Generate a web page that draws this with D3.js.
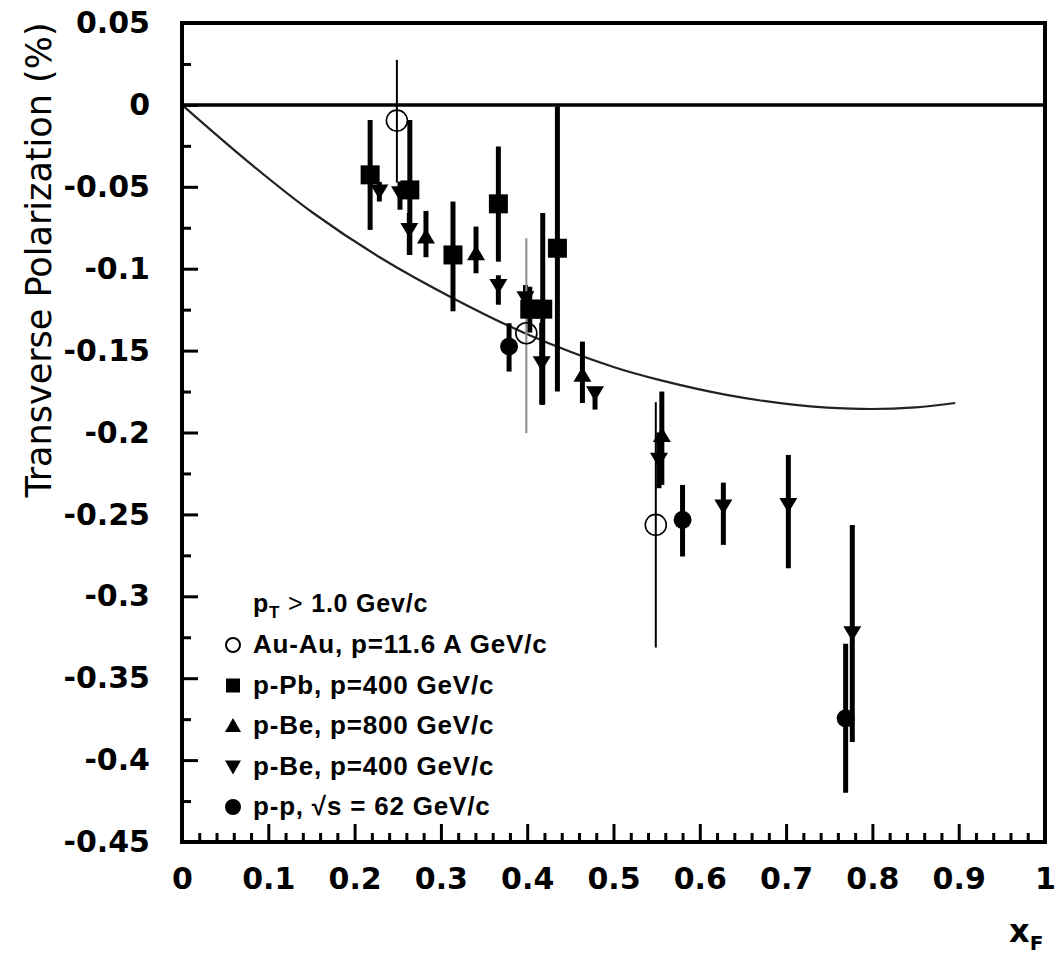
<!DOCTYPE html>
<html>
<head>
<meta charset="utf-8">
<script src="https://cdn.jsdelivr.net/npm/d3@7"></script>
<style>
  body { margin: 0; background: #fff; }
</style>
</head>
<body>
<svg id="chart" width="1056" height="959"></svg>
<script>
'use strict';

// model curve
var curveX = [0, 0.075, 0.152, 0.229, 0.314, 0.4, 0.5, 0.554, 0.631, 0.708, 0.786, 0.85, 0.896];
var curveY = [0, -0.034, -0.066, -0.093, -0.118, -0.140, -0.160, -0.168, -0.177, -0.183, -0.1856, -0.1847, -0.182];

// each row: [xF, polarization, error top, error bottom]
var auAu = [[0.249, -0.0096, 0.0275, -0.0474], [0.399, -0.1394, -0.0814, -0.2004], [0.549, -0.2564, -0.1815, -0.3313]];
var pPb = [[0.218, -0.0427, -0.0092, -0.0763], [0.264, -0.0519, -0.0092, -0.0916], [0.314, -0.0916, -0.059, -0.126],
  [0.3666, -0.0604, -0.0254, -0.0957], [0.403, -0.1247, -0.111, -0.139], [0.418, -0.1247, -0.066, -0.183], [0.435, -0.0875, -0.001, -0.175]];
var pBe800 = [[0.2827, -0.0804, -0.0647, -0.093], [0.3407, -0.0905, -0.0743, -0.1028], [0.464, -0.1648, -0.1445, -0.182], [0.556, -0.2015, -0.175, -0.232]];
var pBe400 = [[0.2287, -0.0529, -0.047, -0.059], [0.2526, -0.0539, -0.0468, -0.064], [0.2634, -0.0763, -0.066, -0.0916],
  [0.3666, -0.1105, -0.104, -0.122], [0.398, -0.118, -0.110, -0.128], [0.4168, -0.1577, -0.133, -0.183], [0.4786, -0.176, -0.1728, -0.186],
  [0.5527, -0.2167, -0.200, -0.234], [0.6273, -0.2452, -0.2306, -0.2686], [0.7026, -0.2442, -0.2137, -0.2829], [0.7767, -0.3225, -0.2564, -0.389]];
var pp = [[0.379, -0.1475, -0.1333, -0.1628], [0.580, -0.2533, -0.232, -0.2757], [0.769, -0.3745, -0.329, -0.42]];

var xTicks = [0, 0.1, 0.2, 0.3, 0.4, 0.5, 0.6, 0.7, 0.8, 0.9, 1];
var xTickLabels = ["0", "0.1", "0.2", "0.3", "0.4", "0.5", "0.6", "0.7", "0.8", "0.9", "1"];
var yTicks = [0.05, 0, -0.05, -0.1, -0.15, -0.2, -0.25, -0.3, -0.35, -0.4, -0.45];
var yTickLabels = ["0.05", "0", "-0.05", "-0.1", "-0.15", "-0.2", "-0.25", "-0.3", "-0.35", "-0.4", "-0.45"];

var legendLabels = ["Au-Au, p=11.6 A GeV/c", "p-Pb, p=400 GeV/c", "p-Be, p=800 GeV/c", "p-Be, p=400 GeV/c", "p-p, \u221As = 62 GeV/c"];

var svg = d3.select("#chart");
var mLeft = 182, mRight = 1045, mTop = 23, mBottom = 842;

var x = d3.scaleLinear().domain([0, 1]).range([mLeft, mRight]);
var y = d3.scaleLinear().domain([-0.45, 0.05]).range([mBottom, mTop]);

// minor ticks
var xMinor = d3.range(0, 1.0001, 0.02).filter(function(d) { return Math.abs(d * 10 - Math.round(d * 10)) > 1e-6; });
var yMinor = d3.range(-0.425, 0.05, 0.05);

var tickFont = "'DejaVu Sans', sans-serif";

svg.append("g")
  .attr("transform", "translate(" + mLeft + ",0)")
  .call(d3.axisLeft(y).tickValues(yTicks).tickSize(-16).tickPadding(32)
    .tickFormat(function(d, i) { return yTickLabels[i]; }));
svg.append("g")
  .attr("transform", "translate(" + mLeft + ",0)")
  .call(d3.axisLeft(y).tickValues(yMinor).tickSize(-9).tickFormat(""));

svg.append("g")
  .attr("transform", "translate(0," + mBottom + ")")
  .call(d3.axisBottom(x).tickValues(xTicks).tickSize(-18).tickPadding(26)
    .tickFormat(function(d, i) { return xTickLabels[i]; }));
svg.append("g")
  .attr("transform", "translate(0," + mBottom + ")")
  .call(d3.axisBottom(x).tickValues(xMinor).tickSize(-9).tickFormat(""));

svg.selectAll(".domain").remove();
svg.selectAll(".tick line").attr("stroke", "#000").attr("stroke-width", 3);
svg.selectAll(".tick text")
  .attr("font-family", tickFont)
  .attr("font-weight", "bold")
  .attr("font-size", 30)
  .attr("fill", "#000");

// model curve
var line = d3.line()
  .x(function(d, i) { return x(curveX[i]); })
  .y(function(d, i) { return y(curveY[i]); })
  .curve(d3.curveCatmullRom.alpha(0.5));
svg.append("path")
  .attr("d", line(curveX))
  .attr("fill", "none")
  .attr("stroke", "#222")
  .attr("stroke-width", 2.2);

// zero line
svg.append("line")
  .attr("x1", x(0)).attr("x2", x(1))
  .attr("y1", y(0)).attr("y2", y(0))
  .attr("stroke", "#000")
  .attr("stroke-width", 3.5);

// error bars
var drawBars = function(data, width, color) {
  svg.append("g").selectAll("line")
    .data(data)
    .enter()
    .append("line")
    .attr("x1", function(d) { return x(d[0]); })
    .attr("x2", function(d) { return x(d[0]); })
    .attr("y1", function(d) { return y(d[2]); })
    .attr("y2", function(d) { return y(d[3]); })
    .attr("stroke", function(d, i) { return typeof color === "function" ? color(i) : color; })
    .attr("stroke-width", width);
};
drawBars(pPb, 5, "#000");
drawBars(pBe800, 5, "#000");
drawBars(pBe400, 5, "#000");
drawBars(pp, 5, "#000");
drawBars(auAu, 2, function(i) { return i === 1 ? "#8a8a8a" : "#000"; });

// marker shapes
var shapes = {
  square: "M-9.5,-9.5H9.5V9.5H-9.5Z",
  up: "M-9,7L9,7L0,-8Z",
  down: "M-9,-7L9,-7L0,8Z"
};
var drawMarks = function(data, kind) {
  var g = svg.append("g").selectAll("g")
    .data(data)
    .enter()
    .append("g")
    .attr("transform", function(d) { return "translate(" + x(d[0]) + "," + y(d[1]) + ")"; });
  if (kind === "open") {
    g.append("circle").attr("r", 10.5).attr("fill", "none").attr("stroke", "#000").attr("stroke-width", 1.6);
  } else if (kind === "dot") {
    g.append("circle").attr("r", 9).attr("fill", "#000");
  } else {
    g.append("path").attr("d", shapes[kind]).attr("fill", "#000");
  }
};
drawMarks(pPb, "square");
drawMarks(pBe800, "up");
drawMarks(pBe400, "down");
drawMarks(pp, "dot");
drawMarks(auAu, "open");

// frame
svg.append("rect")
  .attr("x", mLeft).attr("y", mTop)
  .attr("width", mRight - mLeft).attr("height", mBottom - mTop)
  .attr("fill", "none")
  .attr("stroke", "#000")
  .attr("stroke-width", 4);

// axis titles
svg.append("text")
  .attr("transform", "translate(51,260) rotate(-90)")
  .attr("text-anchor", "middle")
  .attr("font-family", tickFont)
  .attr("font-size", 35)
  .attr("fill", "#000")
  .text("Transverse Polarization (%)");

var xt = svg.append("text")
  .attr("x", 1009).attr("y", 942)
  .attr("font-family", tickFont)
  .attr("font-weight", "bold")
  .attr("font-size", 32)
  .attr("fill", "#000")
  .text("x");
xt.append("tspan").attr("font-size", 20).attr("dy", 8).text("F");

// legend
var legFont = "'Liberation Sans', Arial, sans-serif";
var head = svg.append("text")
  .attr("x", 253).attr("y", 612)
  .attr("font-family", legFont)
  .attr("font-weight", "bold")
  .attr("font-size", 25)
  .attr("letter-spacing", 0.8)
  .attr("fill", "#000")
  .text("p");
head.append("tspan").attr("font-size", 17).attr("dy", 6).text("T");
head.append("tspan").attr("dy", -6).attr("font-weight", "normal").text(" > ");
head.append("tspan").text("1.0 Gev/c");

var legKinds = ["open", "square", "up", "down", "dot"];
var legShapes = {
  open: "M-7,0A7,7 0 1,0 7,0A7,7 0 1,0 -7,0Z",
  square: "M-7,-7H7V7H-7Z",
  up: "M-8,6L8,6L0,-8Z",
  down: "M-8,-6L8,-6L0,8Z",
  dot: "M-8,0A8,8 0 1,0 8,0A8,8 0 1,0 -8,0Z"
};
var leg = svg.append("g").selectAll("g")
  .data(legendLabels)
  .enter()
  .append("g")
  .attr("transform", function(d, i) { return "translate(0," + (653 + i * 40.5) + ")"; });
leg.append("path")
  .attr("transform", "translate(233,-8)")
  .attr("d", function(d, i) { return legShapes[legKinds[i]]; })
  .attr("fill", function(d, i) { return i === 0 ? "none" : "#000"; })
  .attr("stroke", function(d, i) { return i === 0 ? "#000" : "none"; })
  .attr("stroke-width", 2);
leg.append("text")
  .attr("x", 253)
  .attr("font-family", legFont)
  .attr("font-weight", "bold")
  .attr("font-size", 26)
  .attr("letter-spacing", 0.8)
  .attr("fill", "#000")
  .text(function(d) { return d; });
</script>
</body>
</html>
